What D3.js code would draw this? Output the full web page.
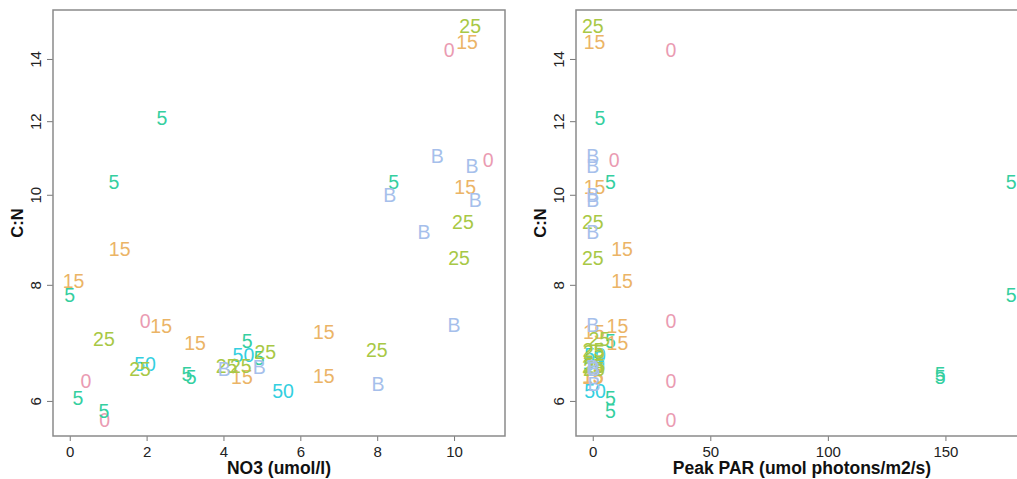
<!DOCTYPE html>
<html>
<head>
<meta charset="utf-8">
<script src="https://cdn.jsdelivr.net/npm/d3@7"></script>
<style>
  html, body { margin: 0; padding: 0; background: #fff; }
  svg { display: block; font-family: "Liberation Sans", Arial, sans-serif; }
</style>
</head>
<body>
<svg id="chart" width="1017" height="479"></svg>
<script>
// Treatment label of each sample (drawn as the marker itself)
const groups = ["0","0","0","0","0",
  "5","5","5","5","5","5","5","5","5","5",
  "50","50","50",
  "15","15","15","15","15","15","15","15","15",
  "25","25","25","25","25","25","25","25","25",
  "B","B","B","B","B","B","B","B","B"];
// Nitrate concentration (umol/l)
const no3 = [9.87, 10.89, 1.96, 0.42, 0.91,
  2.40, 1.15, 8.43, 0.00, 4.62, 3.05, 3.16, 0.21, 0.89, 4.93,
  1.96, 5.55, 4.52,
  10.34, 10.29, 1.30, 0.10, 2.38, 3.26, 6.61, 6.61, 4.48,
  10.42, 10.23, 10.13, 0.89, 5.09, 7.99, 1.83, 4.08, 4.45,
  9.56, 10.47, 8.33, 10.55, 9.22, 10.00, 8.02, 4.93, 4.02];
// Peak PAR (umol photons/m2/s)
const par = [33.3, 9.1, 33.3, 33.3, 33.3,
  3.1, 7.5, 178, 178, 7.5, 147.8, 147.8, 7.5, 7.5, 2.5,
  0.5, 1.0, 1.0,
  0.8, 0.8, 12.5, 12.5, 10.5, 10.5, 0.5, 0.0, 0.0,
  0.0, 0.0, 0.0, 2.8, 0.5, 0.3, 0.5, 0.0, 0.8,
  0.0, 0.0, 0.0, 0.0, 0.0, 0.0, 0.5, 0.0, 0.5];
// Carbon to nitrogen ratio
const cn = [14.3, 10.9, 7.32, 6.30, 5.72,
  12.1, 10.33, 10.33, 7.81, 6.96, 6.41, 6.37, 6.04, 5.85, 6.68,
  6.57, 6.15, 6.73,
  14.6, 10.2, 8.75, 8.07, 7.22, 6.93, 7.11, 6.38, 6.37,
  15.2, 9.34, 8.56, 6.99, 6.77, 6.80, 6.49, 6.54, 6.54,
  11.01, 10.75, 10.0, 9.86, 9.11, 7.25, 6.26, 6.52, 6.49];

const groupOrder = ["0", "5", "15", "25", "50", "B"];
const groupColors = ["#ea9bb2", "#35cf9f", "#ebb466", "#a8c845", "#33cfe0", "#a6bfeb"];

const xTicksNO3 = [0, 2, 4, 6, 8, 10];
const xTicksPAR = [0, 50, 100, 150];
const yTicks = [6, 8, 10, 12, 14];

const points = groups.map((g, i) => ({ g, no3: no3[i], par: par[i], cn: cn[i] }));

const svg = d3.select("#chart");
const color = d3.scaleOrdinal().domain(groupOrder).range(groupColors);

// R-style padded extent (4% on each side)
function padded(ext) {
  const d = (ext[1] - ext[0]) * 0.04;
  return [ext[0] - d, ext[1] + d];
}
const lnExt = padded(d3.extent(cn).map(Math.log));
const yDomain = lnExt.map(Math.exp);

const plotTop = 10, plotBottom = 436;
const y = d3.scaleLog().domain(yDomain).range([plotBottom, plotTop]);

const panels = [
  { key: "no3", left: 53, right: 505, ticks: xTicksNO3, title: "NO3 (umol/l)" },
  { key: "par", left: 576, right: 1028, ticks: xTicksPAR, title: "Peak PAR (umol photons/m2/s)" }
];

panels.forEach(p => {
  const x = d3.scaleLinear()
    .domain(padded(d3.extent(points, d => d[p.key])))
    .range([p.left, p.right]);

  const g = svg.append("g");

  // bottom axis
  const xAxis = g.append("g")
    .attr("transform", `translate(0,${plotBottom})`)
    .call(d3.axisBottom(x).tickValues(p.ticks).tickSize(5).tickPadding(5).tickFormat(d3.format("d")));
  xAxis.select(".domain").remove();
  xAxis.selectAll(".tick line").attr("stroke", "#777").attr("stroke-width", 1);
  xAxis.selectAll(".tick text")
    .attr("fill", "#222").attr("font-size", 15)
    .attr("font-family", "Liberation Sans, Arial, sans-serif");

  // left axis with rotated labels
  const yAxis = g.append("g")
    .attr("transform", `translate(${p.left},0)`)
    .call(d3.axisLeft(y).tickValues(yTicks).tickSize(6).tickFormat(d3.format("d")));
  yAxis.select(".domain").remove();
  yAxis.selectAll(".tick line").attr("stroke", "#777").attr("stroke-width", 1);
  yAxis.selectAll(".tick text")
    .attr("fill", "#222").attr("font-size", 15)
    .attr("font-family", "Liberation Sans, Arial, sans-serif")
    .attr("x", null).attr("dy", null)
    .attr("text-anchor", "middle")
    .attr("transform", "translate(-12,0) rotate(-90)");

  // plot frame
  g.append("rect")
    .attr("x", p.left).attr("y", plotTop)
    .attr("width", p.right - p.left).attr("height", plotBottom - plotTop)
    .attr("fill", "none").attr("stroke", "#8a8a8a").attr("stroke-width", 1.5);

  // axis titles
  g.append("text")
    .attr("x", (p.left + p.right) / 2).attr("y", 474)
    .attr("text-anchor", "middle")
    .attr("font-weight", "bold").attr("font-size", 17.5).attr("fill", "#111")
    .text(p.title);
  g.append("text")
    .attr("transform", `translate(${p.left - 30},${(plotTop + plotBottom) / 2}) rotate(-90)`)
    .attr("text-anchor", "middle")
    .attr("font-weight", "bold").attr("font-size", 16.5).attr("fill", "#111")
    .text("C:N");

  // samples drawn as their treatment labels
  g.append("g").selectAll("text")
    .data(points)
    .join("text")
    .attr("x", d => x(d[p.key]))
    .attr("y", d => y(d.cn))
    .attr("dy", "0.36em")
    .attr("text-anchor", "middle")
    .attr("font-size", 19.5)
    .attr("fill", d => color(d.g))
    .text(d => d.g);
});
</script>
</body>
</html>
